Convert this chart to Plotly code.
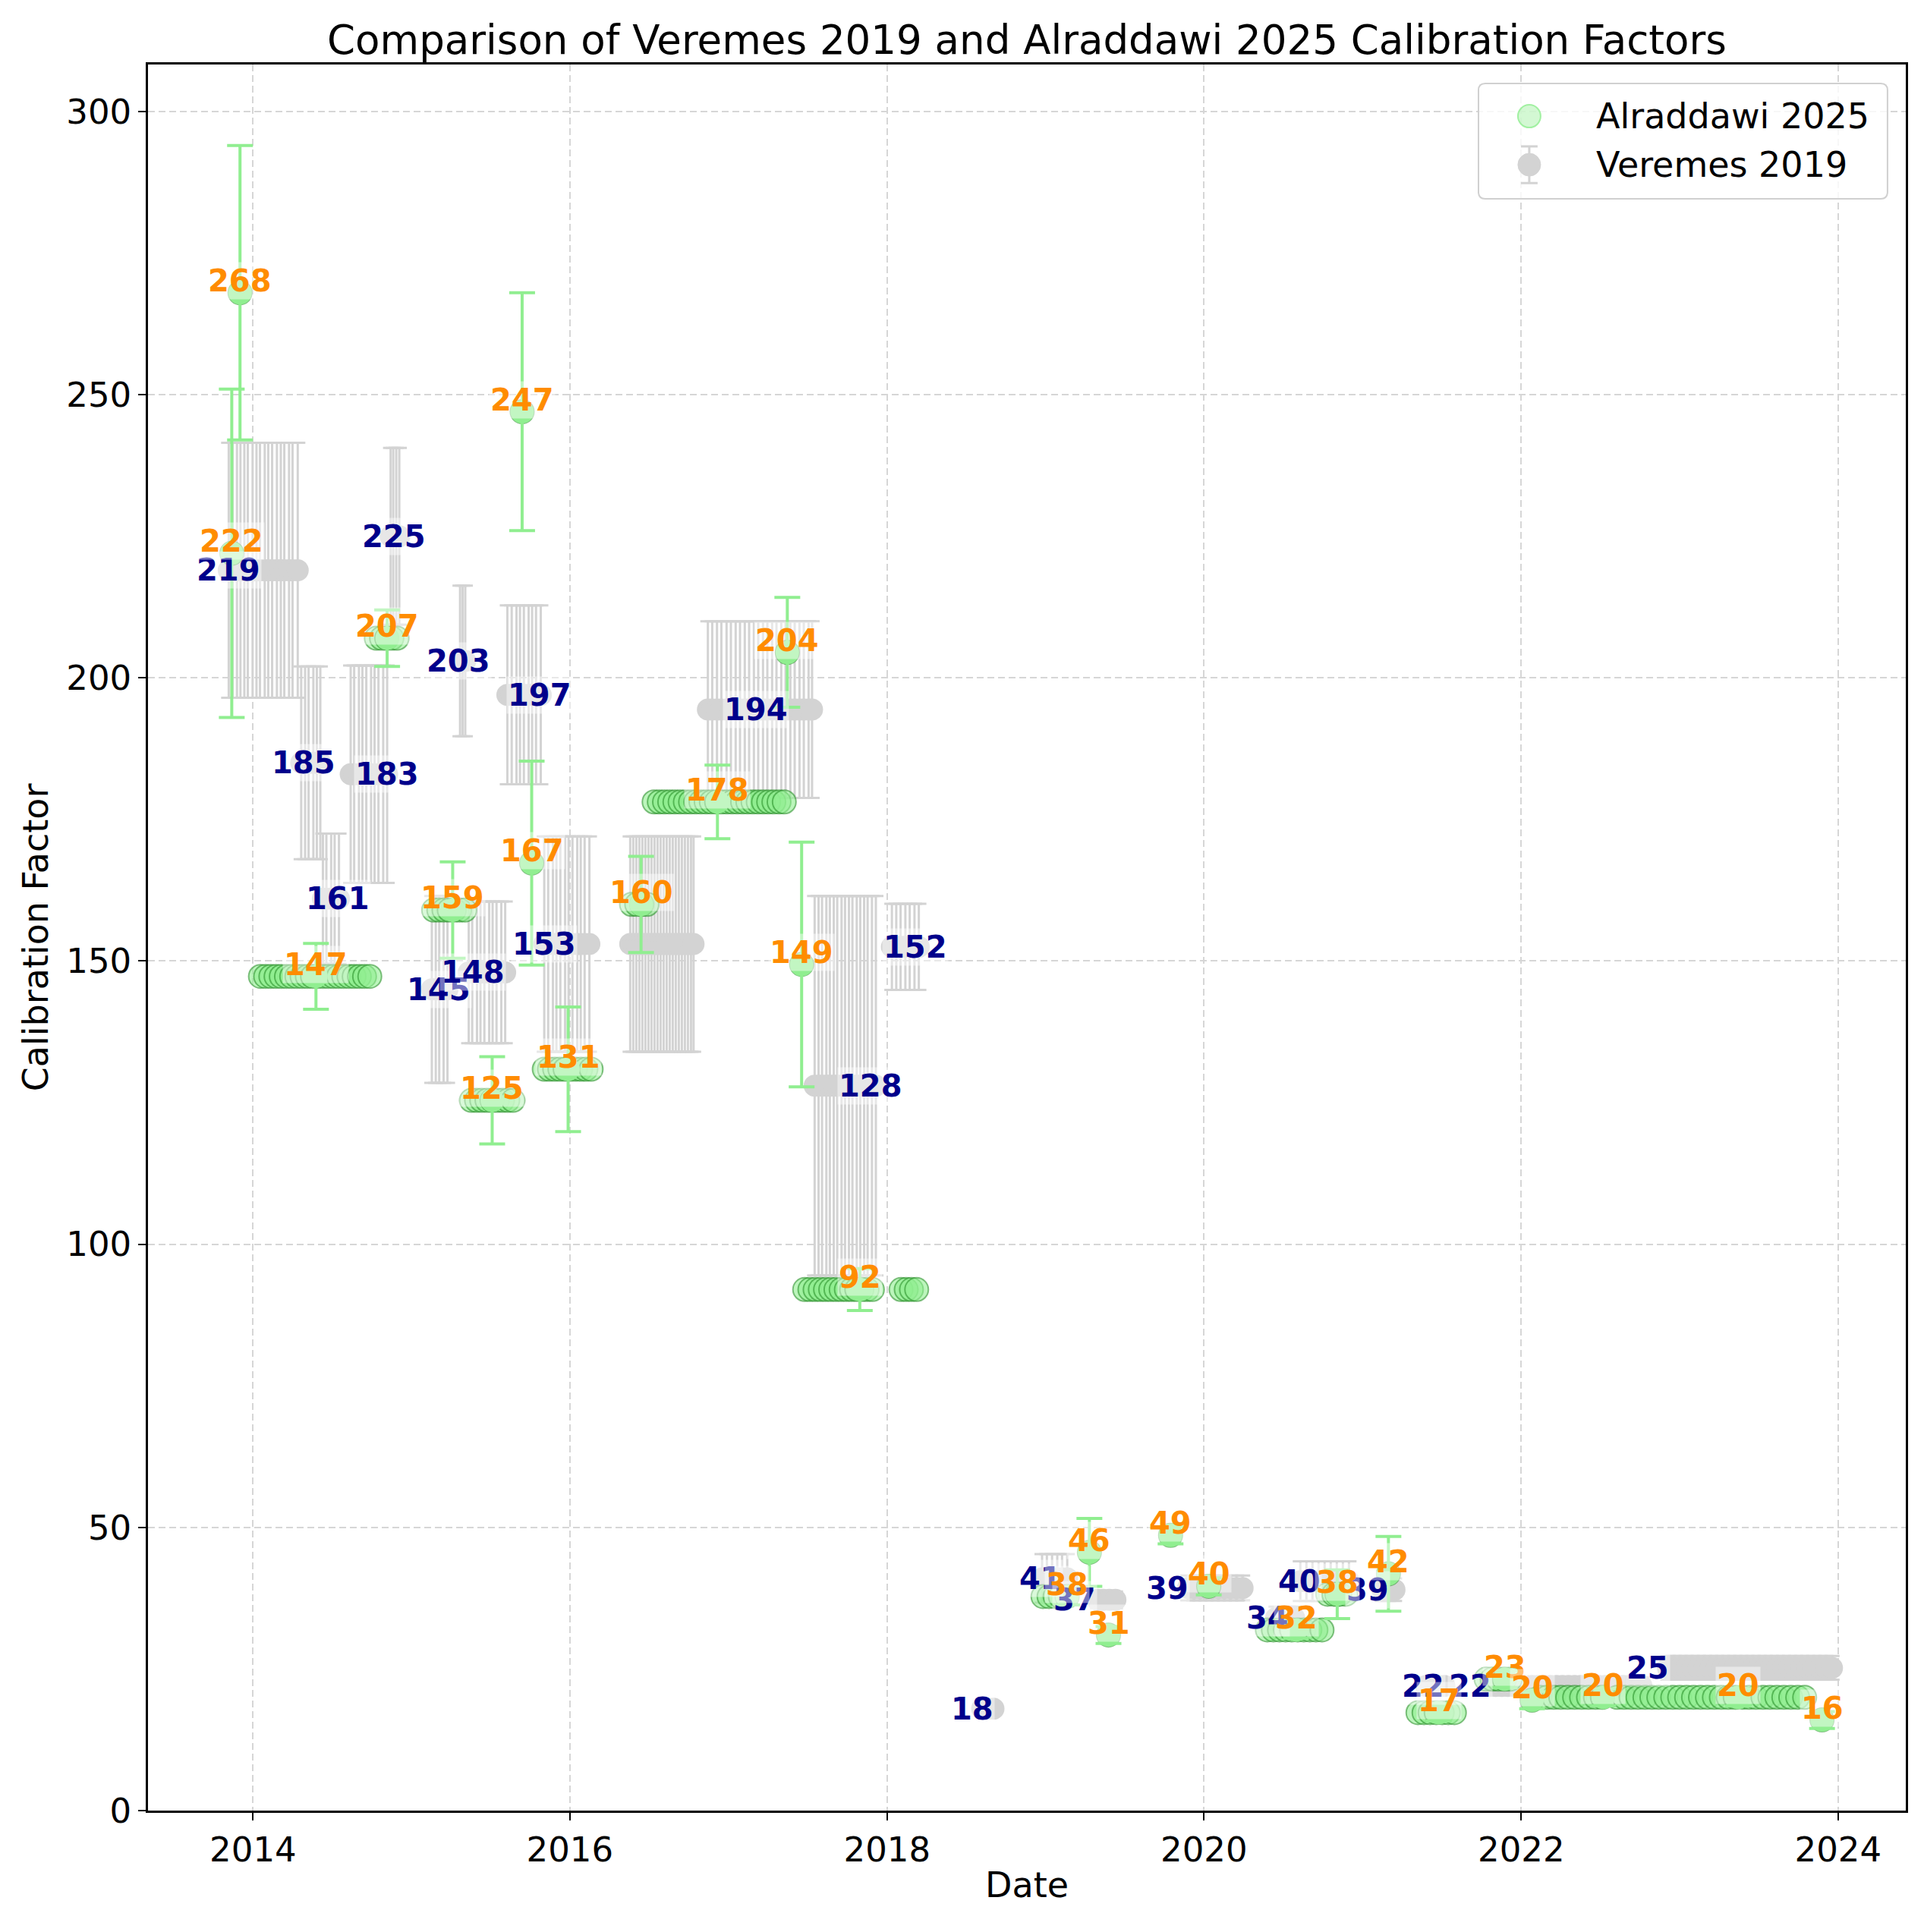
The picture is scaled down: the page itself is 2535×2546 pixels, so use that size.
import plotly.graph_objects as go

# ---- Veremes 2019: one value per calibration period, every measurement date drawn with its error bar
ver_values = [219, 185, 161, 183, 225, 145, 203, 148, 197, 153, 153, 194.4, 128, 152.5,
              18, 41, 37.2, 39.3, 34, 40.5, 39, 22, 22, 25.2]
ver_errors = [22.5, 17, 11.5, 19.2, 15.6, 16.5, 13.3, 12.5, 15.8, 19, 19, 15.6, 33.5, 7.6,
              0.8, 4.3, 1.5, 2.2, 2, 3.5, 2, 1.5, 1.5, 2.1]
ver_dates = [
    ["2013-11-06", "2013-11-15", "2013-11-25", "2013-12-03", "2013-12-12", "2013-12-20", "2013-12-31",
     "2014-01-09", "2014-01-17", "2014-01-28", "2014-02-05", "2014-02-14", "2014-02-25", "2014-03-06",
     "2014-03-14", "2014-03-25", "2014-04-02", "2014-04-14"],
    ["2014-04-22", "2014-05-01", "2014-05-09", "2014-05-20", "2014-05-28", "2014-06-05"],
    ["2014-06-11", "2014-06-19", "2014-06-30", "2014-07-08", "2014-07-18"],
    ["2014-08-14", "2014-08-22", "2014-09-02", "2014-09-10", "2014-09-19", "2014-09-30", "2014-10-08",
     "2014-10-17", "2014-10-28", "2014-11-06"],
    ["2014-11-14", "2014-11-20", "2014-11-27", "2014-12-04"],
    ["2015-02-17", "2015-02-26", "2015-03-06", "2015-03-16", "2015-03-25"],
    ["2015-04-23", "2015-04-29", "2015-05-05"],
    ["2015-05-13", "2015-05-21", "2015-06-01", "2015-06-09", "2015-06-18", "2015-06-29", "2015-07-07",
     "2015-07-16", "2015-07-27", "2015-08-05"],
    ["2015-08-10", "2015-08-20", "2015-08-31", "2015-09-08", "2015-09-17", "2015-09-28", "2015-10-06",
     "2015-10-15", "2015-10-26"],
    ["2015-11-03", "2015-11-12", "2015-11-23", "2015-12-01", "2015-12-10", "2015-12-21", "2015-12-29",
     "2016-01-07", "2016-01-18", "2016-01-26", "2016-02-04", "2016-02-15"],
    ["2016-05-19", "2016-05-26", "2016-06-02", "2016-06-09", "2016-06-16", "2016-06-23", "2016-06-30",
     "2016-07-07", "2016-07-14", "2016-07-21", "2016-07-28", "2016-08-04", "2016-08-11", "2016-08-18",
     "2016-08-25", "2016-09-01", "2016-09-08", "2016-09-15", "2016-09-22", "2016-09-29", "2016-10-06",
     "2016-10-12"],
    ["2016-11-14", "2016-11-24", "2016-12-05", "2016-12-15", "2016-12-27", "2017-01-06", "2017-01-17",
     "2017-01-27", "2017-02-07", "2017-02-17", "2017-02-28", "2017-03-10", "2017-03-21", "2017-03-31",
     "2017-04-11", "2017-04-21", "2017-05-02", "2017-05-12", "2017-05-23", "2017-06-02", "2017-06-13",
     "2017-06-23", "2017-07-04", "2017-07-12"],
    ["2017-07-18", "2017-07-27", "2017-08-04", "2017-08-14", "2017-08-22", "2017-08-31", "2017-09-08",
     "2017-09-18", "2017-09-26", "2017-10-05", "2017-10-13", "2017-10-23", "2017-10-31", "2017-11-09",
     "2017-11-17", "2017-11-27", "2017-12-06"],
    ["2018-01-12", "2018-01-22", "2018-02-01", "2018-02-12", "2018-02-22", "2018-03-05", "2018-03-15"],
    ["2018-08-08", "2018-08-20", "2018-09-03"],
    ["2018-12-24", "2019-01-04", "2019-01-16", "2019-01-28", "2019-02-08", "2019-02-20"],
    ["2019-05-01", "2019-05-14", "2019-05-28", "2019-06-11"],
    ["2019-11-25", "2019-12-09", "2019-12-23", "2020-01-06", "2020-01-20", "2020-02-03", "2020-02-17",
     "2020-03-02", "2020-03-16", "2020-03-30"],
    ["2020-06-15", "2020-06-29", "2020-07-13", "2020-07-27"],
    ["2020-08-10", "2020-08-24", "2020-09-07", "2020-09-21", "2020-10-05", "2020-10-19", "2020-11-02",
     "2020-11-16", "2020-11-30"],
    ["2021-02-15", "2021-03-01", "2021-03-15"],
    ["2021-05-27", "2021-06-10", "2021-06-24", "2021-07-08"],
    ["2021-10-20", "2021-11-03", "2021-11-17", "2021-12-01", "2021-12-15", "2021-12-29", "2022-01-12",
     "2022-01-26", "2022-02-09", "2022-02-23", "2022-03-09", "2022-03-23", "2022-04-06", "2022-04-20",
     "2022-05-04", "2022-05-18", "2022-06-01", "2022-06-15", "2022-06-29", "2022-07-13", "2022-07-27",
     "2022-08-10", "2022-08-24", "2022-09-07", "2022-09-21", "2022-10-05"],
    ["2022-12-05", "2022-12-19", "2023-01-02", "2023-01-16", "2023-01-30", "2023-02-13", "2023-02-27",
     "2023-03-13", "2023-03-27", "2023-04-10", "2023-04-24", "2023-05-08", "2023-05-22", "2023-06-05",
     "2023-06-19", "2023-07-03", "2023-07-17", "2023-07-31", "2023-08-14", "2023-08-28", "2023-09-11",
     "2023-09-25", "2023-10-09", "2023-10-23", "2023-11-06", "2023-11-20", "2023-12-04", "2023-12-18"],
]
# where each period's value label sits (None = not labelled)
ver_label_dates = ["2013-11-06", "2014-04-27", "2014-07-16", "2014-11-06", "2014-11-21", "2015-03-04",
                   "2015-04-20", "2015-05-23", "2015-10-23", "2015-11-03", None, "2017-03-04",
                   "2017-11-24", "2018-03-07", "2018-07-16", "2018-12-20", "2019-03-10", "2019-10-08",
                   "2020-05-27", "2020-08-08", "2021-01-12", "2021-05-19", "2021-09-06", "2022-10-20"]

# ---- Alraddawi 2025: all measurement dates (scatter) ...
alr_values = [222, 268, 147.3, 207, 159, 125.4, 247, 167.3, 130.9, 160, 178.1, 204.5, 149.4, 92,
              37.8, 45.6, 31, 48.6, 39.6, 31.9, 38.2, 41.8, 17.3, 23.2, 19.5, 20, 16]
alr_dates = [
    ["2013-11-13"],
    ["2013-12-02"],
    ["2014-01-18", "2014-01-30", "2014-02-11", "2014-02-23", "2014-03-07", "2014-03-19", "2014-03-31",
     "2014-04-12", "2014-04-24", "2014-05-06", "2014-05-18", "2014-05-30", "2014-06-11", "2014-06-23",
     "2014-07-05", "2014-07-17", "2014-07-29", "2014-08-10", "2014-08-22", "2014-09-03", "2014-09-15",
     "2014-09-27"],
    ["2014-10-12", "2014-10-24", "2014-11-05", "2014-11-17", "2014-11-29"],
    ["2015-02-21", "2015-03-05", "2015-03-17", "2015-03-29", "2015-04-10", "2015-04-22", "2015-05-04"],
    ["2015-05-19", "2015-05-31", "2015-06-12", "2015-06-24", "2015-07-06", "2015-07-18", "2015-07-30",
     "2015-08-11", "2015-08-23"],
    ["2015-09-13"],
    ["2015-10-05"],
    ["2015-11-03", "2015-11-15", "2015-11-27", "2015-12-09", "2015-12-21", "2016-01-02", "2016-01-14",
     "2016-01-26", "2016-02-07", "2016-02-19"],
    ["2016-05-22", "2016-06-03", "2016-06-15", "2016-06-27"],
    ["2016-07-13", "2016-07-25", "2016-08-06", "2016-08-18", "2016-08-30", "2016-09-11", "2016-09-23",
     "2016-10-05", "2016-10-17", "2016-10-29", "2016-11-10", "2016-11-22", "2016-12-04", "2016-12-16",
     "2016-12-28", "2017-01-09", "2017-01-21", "2017-02-02", "2017-02-14", "2017-02-26", "2017-03-10",
     "2017-03-22", "2017-04-03", "2017-04-15", "2017-04-27", "2017-05-09"],
    ["2017-05-16"],
    ["2017-06-18"],
    ["2017-06-25", "2017-07-07", "2017-07-19", "2017-07-31", "2017-08-12", "2017-08-24", "2017-09-05",
     "2017-09-17", "2017-09-29", "2017-10-11", "2017-10-23", "2017-11-04", "2017-11-16", "2017-11-28",
     "2018-02-02", "2018-02-14", "2018-02-26", "2018-03-10"],
    ["2018-12-26", "2019-01-09", "2019-01-23", "2019-02-04", "2019-02-20"],
    ["2019-04-12"],
    ["2019-05-26"],
    ["2019-10-16"],
    ["2020-01-12"],
    ["2020-05-26", "2020-06-09", "2020-06-23", "2020-07-07", "2020-07-21", "2020-08-04", "2020-08-18",
     "2020-09-01", "2020-09-15", "2020-09-29"],
    ["2020-10-12", "2020-10-26", "2020-11-03", "2020-11-09", "2020-11-23"],
    ["2021-03-01"],
    ["2021-05-08", "2021-05-22", "2021-06-05", "2021-06-19", "2021-07-03", "2021-07-17", "2021-07-31"],
    ["2021-10-12", "2021-10-26", "2021-11-09", "2021-11-23", "2021-12-07"],
    ["2022-01-26"],
    ["2022-02-13", "2022-03-01", "2022-03-17", "2022-04-02", "2022-04-18", "2022-05-04", "2022-05-20",
     "2022-06-05", "2022-06-21", "2022-07-07", "2022-08-10", "2022-08-26", "2022-09-11", "2022-09-27",
     "2022-10-13", "2022-10-29", "2022-11-14", "2022-11-30", "2022-12-16", "2023-01-01", "2023-01-17",
     "2023-02-02", "2023-02-18", "2023-03-06", "2023-03-22", "2023-04-07", "2023-04-23", "2023-05-09",
     "2023-05-25", "2023-06-10", "2023-06-26", "2023-07-12", "2023-07-28", "2023-08-13", "2023-08-29",
     "2023-09-14", "2023-09-30", "2023-10-16"],
    ["2023-11-25"],
]
# ... and the reference points that carry an error bar and an orange label
alr_ref_dates = ["2013-11-13", "2013-12-02", "2014-05-26", "2014-11-06", "2015-04-06", "2015-07-06",
                 "2015-09-13", "2015-10-05", "2015-12-28", "2016-06-13", "2016-12-06", "2017-05-16",
                 "2017-06-18", "2017-10-30", "2019-02-20", "2019-04-12", "2019-05-26", "2019-10-16",
                 "2020-01-12", "2020-07-31", "2020-11-03", "2021-03-01", "2021-06-25", "2021-11-24",
                 "2022-01-26", "2022-07-09", "2023-05-16", "2023-11-25"]
alr_ref_values = [222, 268, 147.3, 207, 159, 125.4, 247, 167.3, 130.9, 160, 178.1, 204.5, 149.4, 92,
                  37.8, 45.6, 31, 48.6, 39.6, 31.9, 38.2, 41.8, 17.3, 23.2, 19.5, 20, 20, 16]
alr_ref_errors = [29, 26, 5.8, 5, 8.5, 7.7, 21, 18, 11, 8.5, 6.5, 9.7, 21.6, 3.7,
                  1.5, 6, 1.5, 1.5, 1.5, 1.5, 4.3, 6.6, 1.5, 1.5, 1.5, 1.5, 1.5, 1.5]

tick_years = [2014, 2016, 2018, 2020, 2022, 2024]
legend_names = ["Alraddawi 2025", "Veremes 2019"]

# expand the period lists into per-point arrays
vx, vy, ve = [], [], []
for val, err, dates in zip(ver_values, ver_errors, ver_dates):
    vx += dates; vy += [val] * len(dates); ve += [err] * len(dates)
ax_, ay_ = [], []
for val, dates in zip(alr_values, alr_dates):
    ax_ += dates; ay_ += [val] * len(dates)

FONT = "DejaVu Sans"
GREY = "#d3d3d3"
GREEN = "#90ee90"
SCAT_FILL = "rgba(144,238,144,0.6)"
SCAT_EDGE = "rgba(34,139,34,0.55)"

fig = go.Figure()
fig.add_trace(go.Scatter(
    x=vx, y=vy, mode="markers", name=legend_names[1], showlegend=False,
    marker=dict(size=29, color=GREY),
    error_y=dict(type="data", array=ve, color=GREY, thickness=3, width=10)))
fig.add_trace(go.Scatter(
    x=ax_, y=ay_, mode="markers", name=legend_names[0], showlegend=False,
    marker=dict(size=31, color=SCAT_FILL, line=dict(color=SCAT_EDGE, width=2))))
fig.add_trace(go.Scatter(
    x=alr_ref_dates, y=alr_ref_values, mode="markers", showlegend=False,
    marker=dict(size=31, color=GREEN),
    error_y=dict(type="data", array=alr_ref_errors, color=GREEN, thickness=4, width=17)))

label_bg = "rgba(255,255,255,0.45)"
for val, d in zip(ver_values, ver_label_dates):
    if d is None:
        continue
    fig.add_annotation(x=d, y=val, text=f"<b>{val:.0f}</b>", showarrow=False,
                       font=dict(family=FONT, size=40, color="#00008b"), bgcolor=label_bg, borderpad=1)
for val, d in zip(alr_ref_values, alr_ref_dates):
    fig.add_annotation(x=d, y=val, text=f"<b>{val:.0f}</b>", showarrow=False, yshift=16,
                       font=dict(family=FONT, size=40, color="#ff8c00"), bgcolor=label_bg, borderpad=1)

# legend box drawn by hand so its symbols match the plotted marker size
bx0, bx1, by0, by1 = 0.7569, 0.9896, 0.9231, 0.9891
rx, ry = 9 / 2316, 9 / 2300
fig.add_shape(type="path", xref="paper", yref="paper",
              path=(f"M{bx0 + rx},{by1} L{bx1 - rx},{by1} Q{bx1},{by1} {bx1},{by1 - ry} "
                    f"L{bx1},{by0 + ry} Q{bx1},{by0} {bx1 - rx},{by0} L{bx0 + rx},{by0} "
                    f"Q{bx0},{by0} {bx0},{by0 + ry} L{bx0},{by1 - ry} Q{bx0},{by1} {bx0 + rx},{by1} Z"),
              fillcolor="rgba(255,255,255,0.8)", line=dict(color="#d0d0d0", width=2), layer="above")
sx, rpx, rpy = 0.7858, 15 / 2316, 15 / 2300
row_y = [0.9704, 0.9426]
fig.add_shape(type="circle", xref="paper", yref="paper", x0=sx - rpx, x1=sx + rpx,
              y0=row_y[0] - rpy, y1=row_y[0] + rpy, fillcolor="rgba(144,238,144,0.4)",
              line=dict(color="rgba(144,238,144,0.8)", width=2), layer="above")
cap = 11 / 2316
for y_end in (row_y[1] + 0.0105, row_y[1] - 0.0105):
    fig.add_shape(type="line", xref="paper", yref="paper", x0=sx - cap, x1=sx + cap, y0=y_end, y1=y_end,
                  line=dict(color=GREY, width=3), layer="above")
fig.add_shape(type="line", xref="paper", yref="paper", x0=sx, x1=sx, y0=row_y[1] - 0.0105,
              y1=row_y[1] + 0.0105, line=dict(color=GREY, width=3), layer="above")
fig.add_shape(type="circle", xref="paper", yref="paper", x0=sx - rpx, x1=sx + rpx,
              y0=row_y[1] - rpy, y1=row_y[1] + rpy, fillcolor=GREY, line=dict(color=GREY, width=1),
              layer="above")
for name, yy in zip(legend_names, row_y):
    fig.add_annotation(x=0.8230, y=yy, xref="paper", yref="paper", text=name, showarrow=False,
                       xanchor="left", yanchor="middle", font=dict(family=FONT, size=46, color="black"))

axis_common = dict(showline=True, linecolor="black", linewidth=2.5, mirror=True,
                   ticks="outside", ticklen=10, tickwidth=2, tickcolor="black",
                   showgrid=True, gridcolor="#d6d6d6", gridwidth=2, griddash="9px,5px",
                   zeroline=False, tickfont=dict(family=FONT, size=45, color="black"))
fig.update_xaxes(**axis_common, range=["2013-05-04", "2024-06-05"],
                 tickvals=[f"{y}-01-01" for y in tick_years], ticktext=[str(y) for y in tick_years],
                 title=dict(text="Date", font=dict(family=FONT, size=46, color="black"), standoff=6))
fig.update_yaxes(**axis_common, range=[0, 308.3], tickvals=[0, 50, 100, 150, 200, 250, 300],
                 title=dict(text="Calibration Factor", font=dict(family=FONT, size=46, color="black"),
                            standoff=10))

fig.update_layout(
    width=2519, height=2530,
    margin=dict(l=187, r=16, t=77, b=152, autoexpand=False),
    plot_bgcolor="white", paper_bgcolor="white",
    font=dict(family=FONT, color="black"),
    title=dict(text="Comparison of Veremes 2019 and Alraddawi 2025 Calibration Factors",
               font=dict(family=FONT, size=53, color="black"),
               x=0.5, xref="paper", xanchor="center", y=1 - 44 / 2530, yref="container", yanchor="middle"),
    showlegend=False,
)
fig.write_html("out.html")
